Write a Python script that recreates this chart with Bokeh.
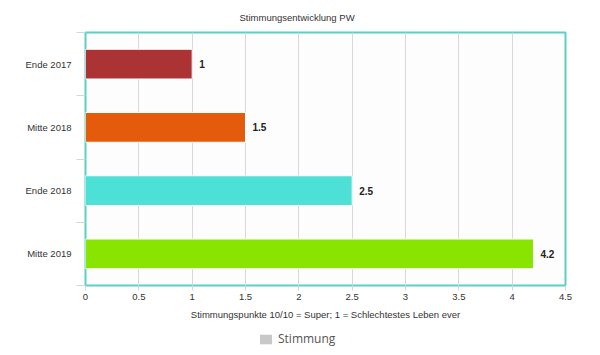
from bokeh.plotting import figure
from bokeh.models import Range1d, FixedTicker, ColumnDataSource, Legend, LegendItem, Title
from bokeh.layouts import column
from bokeh.core.properties import value
from bokeh.embed import file_html
from bokeh.resources import INLINE

categories = ["Ende 2017", "Mitte 2018", "Ende 2018", "Mitte 2019"]
values = [1, 1.5, 2.5, 4.2]
colors = ["#ab3333", "#e35b0b", "#4de0d6", "#88e400"]
value_labels = ["1", "1.5", "2.5", "4.2"]
x_ticks = [0, 0.5, 1, 1.5, 2, 2.5, 3, 3.5, 4, 4.5]
x_tick_labels = ["0", "0.5", "1", "1.5", "2", "2.5", "3", "3.5", "4", "4.5"]
title_text = "Stimmungsentwicklung PW"
x_title = "Stimmungspunkte 10/10 = Super; 1 = Schlechtestes Leben ever"
legend_label = "Stimmung"

n = len(categories)
ypos = [n - i - 0.5 for i in range(n)]
src = ColumnDataSource(dict(cat=categories, val=values, col=colors, lab=value_labels, y=ypos))

FONT = "Liberation Sans"
FS = "9.5px"

p = figure(width=600, height=325, output_backend="svg", toolbar_location=None,
           x_range=Range1d(0, 4.5), y_range=Range1d(0, n),
           min_border_left=85, min_border_right=35, min_border_top=31, min_border_bottom=40)
p.title = Title(text=title_text, align="left", offset=154, text_font=FONT,
                text_font_size=FS, text_font_style="normal", text_color="#333333",
                standoff=19)
p.background_fill_color = "#fdfdfd"
p.border_fill_color = "white"
p.outline_line_color = "#5ccfc6"
p.outline_line_width = 2

bars = p.hbar(y="y", right="val", left=0, height=0.47, source=src,
              fill_color="col", line_color="white", line_width=1)
p.text(x="val", y="y", text="lab", source=src, x_offset=7,
       text_align="left", text_baseline="middle", text_font=value(FONT),
       text_font_size="10px", text_font_style="bold", text_color="#222222")

# x axis
xa = p.xaxis[0]
xa.ticker = FixedTicker(ticks=x_ticks)
xa.major_label_overrides = {t: l for t, l in zip(x_ticks, x_tick_labels)}
xa.major_tick_out = 5
xa.major_tick_in = 0
xa.major_tick_line_color = "#ccd6eb"
xa.minor_tick_line_color = None
xa.axis_line_color = None
xa.major_label_text_font = FONT
xa.major_label_text_font_size = FS
xa.major_label_text_color = "#333333"
xa.major_label_standoff = 3
xa.axis_label = x_title
xa.axis_label_text_font = FONT
xa.axis_label_text_font_size = FS
xa.axis_label_text_font_style = "normal"
xa.axis_label_text_color = "#333333"
xa.axis_label_standoff = 6

# y axis
ya = p.yaxis[0]
ya.ticker = FixedTicker(ticks=ypos, minor_ticks=[0, 1, 2, 3, 4])
ya.major_label_overrides = {y: c for y, c in zip(ypos, categories)}
ya.major_tick_line_color = None
ya.major_tick_out = 0
ya.major_tick_in = 0
ya.minor_tick_out = 9
ya.minor_tick_in = 0
ya.minor_tick_line_color = "#ccd6eb"
ya.axis_line_color = None
ya.major_label_text_font = FONT
ya.major_label_text_font_size = FS
ya.major_label_text_color = "#333333"
ya.major_label_standoff = 5

p.ygrid.grid_line_color = None
p.xgrid.ticker = FixedTicker(ticks=x_ticks)
p.xgrid.grid_line_color = "#d8d8d8"

# legend strip
nan = float("nan")
lf = figure(width=600, height=30, output_backend="svg", toolbar_location=None,
            x_range=Range1d(0, 1), y_range=Range1d(0, 1),
            min_border_left=0, min_border_right=0, min_border_top=0, min_border_bottom=0)
lf.axis.visible = False
lf.grid.visible = False
lf.outline_line_color = None
lf.background_fill_color = "white"
dummy = lf.quad(left=[nan], right=[nan], top=[nan], bottom=[nan],
                fill_color="#c8c8c8", line_color=None)
legend = Legend(items=[LegendItem(label=legend_label, renderers=[dummy])],
                orientation="horizontal", location=(173, 8),
                glyph_width=15, glyph_height=12, label_text_font="Open Sans",
                label_text_font_size="12px", label_text_color="#555555",
                border_line_color=None, background_fill_alpha=0,
                padding=0, margin=0, spacing=0, label_standoff=5,
                label_height=12)
lf.add_layout(legend, "center")

open("out.html", "w").write(file_html(column(p, lf), INLINE))
